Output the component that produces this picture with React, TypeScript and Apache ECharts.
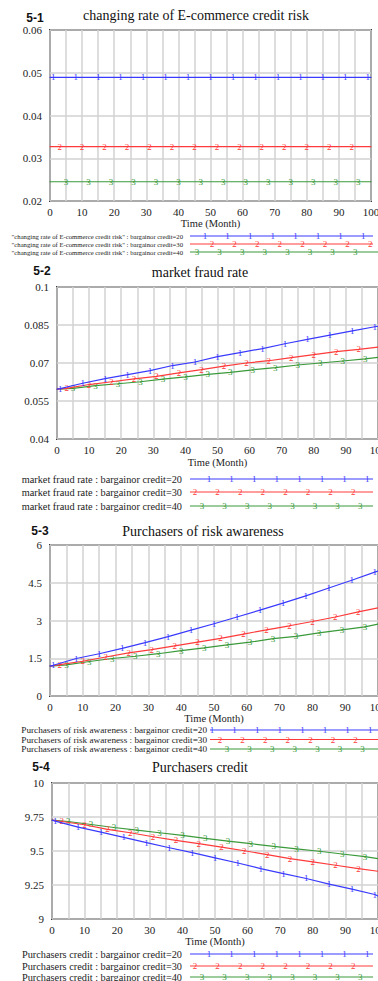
import React, { useEffect, useRef } from 'react';
import * as echarts from 'echarts';

// ---- time points (months) at which values were read (markers between the ends) ----
const blueMonths = [0, 1, 8, 15, 22, 29, 36, 43, 50, 57, 64, 71, 78, 85, 92, 99, 100];
const redMonths = [0, 3, 10, 17, 24, 31, 38, 45, 52, 59, 66, 73, 80, 87, 94, 100];
const greenMonths = [0, 5, 12, 19, 26, 33, 40, 47, 54, 61, 68, 75, 82, 89, 96, 100];

// ---- 5-1 changing rate of E-commerce credit risk ----
const riskRate20 = [0.0489, 0.0489, 0.0489, 0.0489, 0.0489, 0.0489, 0.0489, 0.0489, 0.0489, 0.0489, 0.0489, 0.0489, 0.0489, 0.0489, 0.0489, 0.0489, 0.0489];
const riskRate30 = [0.0327, 0.0327, 0.0327, 0.0327, 0.0327, 0.0327, 0.0327, 0.0327, 0.0327, 0.0327, 0.0327, 0.0327, 0.0327, 0.0327, 0.0327, 0.0327];
const riskRate40 = [0.0245, 0.0245, 0.0245, 0.0245, 0.0245, 0.0245, 0.0245, 0.0245, 0.0245, 0.0245, 0.0245, 0.0245, 0.0245, 0.0245, 0.0245, 0.0245];

// ---- 5-2 market fraud rate ----
const fraud20 = [0.0597, 0.0599, 0.062, 0.0638, 0.0654, 0.067, 0.069, 0.0704, 0.0725, 0.0741, 0.0757, 0.0776, 0.0793, 0.081, 0.0827, 0.0843, 0.0845];
const fraud30 = [0.0597, 0.06, 0.0615, 0.0626, 0.0637, 0.0647, 0.0661, 0.0674, 0.0688, 0.07, 0.0709, 0.0721, 0.0733, 0.0745, 0.0754, 0.0763];
const fraud40 = [0.0597, 0.06, 0.0611, 0.0618, 0.0626, 0.0636, 0.0645, 0.0655, 0.0663, 0.0673, 0.0682, 0.0692, 0.07, 0.0708, 0.0716, 0.0722];

// ---- 5-3 Purchasers of risk awareness ----
const aware20 = [1.19, 1.22, 1.49, 1.68, 1.89, 2.12, 2.36, 2.62, 2.87, 3.14, 3.41, 3.69, 3.98, 4.29, 4.6, 4.92, 4.96];
const aware30 = [1.19, 1.25, 1.38, 1.55, 1.71, 1.84, 1.99, 2.14, 2.29, 2.46, 2.63, 2.79, 2.96, 3.14, 3.34, 3.5];
const aware40 = [1.19, 1.24, 1.37, 1.49, 1.58, 1.68, 1.8, 1.91, 2.03, 2.14, 2.28, 2.37, 2.51, 2.63, 2.75, 2.86];

// ---- 5-4 Purchasers credit ----
const credit20 = [9.727, 9.72, 9.676, 9.639, 9.6, 9.561, 9.524, 9.488, 9.449, 9.412, 9.371, 9.334, 9.298, 9.256, 9.22, 9.18, 9.17];
const credit30 = [9.727, 9.717, 9.693, 9.659, 9.634, 9.605, 9.578, 9.554, 9.529, 9.502, 9.473, 9.444, 9.42, 9.395, 9.371, 9.351];
const credit40 = [9.727, 9.717, 9.695, 9.673, 9.654, 9.634, 9.615, 9.593, 9.573, 9.554, 9.534, 9.515, 9.498, 9.478, 9.459, 9.444];

// ---- axes ----
const yMins = [0.02, 0.04, 0, 9];
const yMaxs = [0.06, 0.1, 6, 10];
const ySteps = [0.01, 0.015, 1.5, 0.25];
const xMin = 0;
const xMax = 100;
const xGridStep = 5;
const xLabelStep = 10;
const xAxisName = 'Time (Month)';

// ---- texts ----
const panelTags = ['5-1', '5-2', '5-3', '5-4'];
const panelTitles = ['changing rate of E-commerce credit risk', 'market fraud rate', 'Purchasers of risk awareness', 'Purchasers credit'];
const legendVarNames = ['"changing rate of E-commerce credit risk"', 'market fraud rate', 'Purchasers of risk awareness', 'Purchasers credit'];
const bargainorCredits = [20, 30, 40];
const markerDigits = ['1', '2', '3'];

const seriesColors = ['#3a3aff', '#ff3a3a', '#3a9a3a'];
const SERIF = 'Liberation Serif';

const panelData = [
  [riskRate20, riskRate30, riskRate40],
  [fraud20, fraud30, fraud40],
  [aware20, aware30, aware40],
  [credit20, credit30, credit40],
];
const seriesMonths = [blueMonths, redMonths, greenMonths];

// layout (pixels)
const layouts = [
  { left: 50, top: 30, right: 7, height: 171, tagX: 35, tagY: 18, titleX: 196, titleY: 15, nameGap: 17,
    legY: [236, 244, 252], legTextRight: 183, legFont: 6.7, legX1: 190, legX2: [373, 373, 378], digitStart: [205, 212, 197] },
  { left: 57, top: 287, right: 0, height: 152, tagX: 42, tagY: 271, titleX: 200, titleY: 272, nameGap: 18,
    legY: [479, 492, 506], legTextRight: 182, legFont: 10.3, legX1: 190, legX2: [373, 373, 373], digitStart: [209, 195, 202] },
  { left: 50, top: 545, right: 0, height: 151, tagX: 40, tagY: 531, titleX: 203, titleY: 531, nameGap: 17,
    legY: [730, 739.5, 749], legTextRight: 207, legFont: 9.2, legX1: 210, legX2: [378, 378, 378], digitStart: [212, 220, 227] },
  { left: 52, top: 783, right: 0, height: 136, tagX: 41, tagY: 767, titleX: 200, titleY: 767, nameGap: 15,
    legY: [954, 966, 977], legTextRight: 182, legFont: 10.3, legX1: 190, legX2: [373, 373, 373], digitStart: [209, 195, 202] },
];

function buildOption() {
  const grids = layouts.map((l) => ({
    left: l.left, top: l.top, right: l.right, height: l.height,
    containLabel: false, outerBoundsMode: 'none',
    show: true, borderColor: '#3a3a3a', borderWidth: 2, backgroundColor: '#ffffff',
  }));
  const xAxes = layouts.map((l, i) => ({
    type: 'value', gridIndex: i, min: xMin, max: xMax, interval: xGridStep,
    name: xAxisName, nameLocation: 'middle', nameGap: l.nameGap,
    nameTextStyle: { fontFamily: SERIF, fontSize: 10.5, color: '#222' },
    axisLine: { show: false }, axisTick: { show: false },
    axisLabel: {
      margin: 5, fontFamily: SERIF, fontSize: 11, color: '#222', hideOverlap: false,
      formatter: (v: number) => (v % xLabelStep === 0 ? String(v) : ''),
    },
    splitLine: { show: true, lineStyle: { color: '#d2d2d2', width: 1.5 } },
  }));
  const yAxes = layouts.map((l, i) => ({
    type: 'value', gridIndex: i, min: yMins[i], max: yMaxs[i], interval: ySteps[i],
    axisLine: { show: false }, axisTick: { show: false },
    axisLabel: { margin: 8, fontFamily: SERIF, fontSize: 11, color: '#222' },
    splitLine: { show: true, lineStyle: { color: '#d2d2d2', width: 1.5 } },
  }));

  const series: any[] = [];
  panelData.forEach((vals3, pi) => {
    vals3.forEach((vals, si) => {
      const months = seriesMonths[si];
      const n = vals.length;
      series.push({
        type: 'line', xAxisIndex: pi, yAxisIndex: pi,
        data: vals.map((v, k) => [months[k], v]),
        symbol: 'circle', symbolSize: 1, showSymbol: true, showAllSymbol: true,
        lineStyle: { color: seriesColors[si], width: 1.2 },
        itemStyle: { color: seriesColors[si] },
        label: {
          show: true, position: 'inside', color: seriesColors[si], fontSize: 9, fontFamily: SERIF,
          formatter: (p: any) => (p.dataIndex === 0 || p.dataIndex === n - 1 ? '' : markerDigits[si]),
        },
        emphasis: { disabled: true },
        z: 5 - si,
      });
    });
  });

  const graphics: any[] = [];
  layouts.forEach((l, pi) => {
    graphics.push({
      type: 'text', x: l.tagX, y: l.tagY,
      style: { text: panelTags[pi], align: 'center', verticalAlign: 'middle', fontFamily: 'Liberation Sans', fontWeight: 'bold', fontSize: 12, fill: '#111' },
    });
    graphics.push({
      type: 'text', x: l.titleX, y: l.titleY,
      style: { text: panelTitles[pi], align: 'center', verticalAlign: 'middle', fontFamily: SERIF, fontSize: 14, fill: '#111' },
    });
    bargainorCredits.forEach((c, si) => {
      const y = l.legY[si];
      graphics.push({
        type: 'text', x: l.legTextRight, y,
        style: { text: `${legendVarNames[pi]} : bargainor credit=${c}`, align: 'right', verticalAlign: 'middle', fontFamily: SERIF, fontSize: l.legFont, fill: '#222' },
      });
      graphics.push({
        type: 'line', shape: { x1: l.legX1, y1: y, x2: l.legX2[si], y2: y },
        style: { stroke: seriesColors[si], lineWidth: 1.2 },
      });
      for (let x = l.digitStart[si]; x <= 373; x += 22.6) {
        graphics.push({
          type: 'text', x, y,
          style: { text: markerDigits[si], align: 'center', verticalAlign: 'middle', fontFamily: SERIF, fontSize: 9, fill: seriesColors[si] },
        });
      }
    });
  });

  return {
    animation: false,
    backgroundColor: '#ffffff',
    grid: grids,
    xAxis: xAxes,
    yAxis: yAxes,
    series,
    graphic: graphics,
  };
}

export default function App() {
  const ref = useRef<HTMLDivElement>(null);
  useEffect(() => {
    if (!ref.current) return;
    const chart = echarts.init(ref.current, undefined, { renderer: 'svg' });
    chart.setOption(buildOption() as any);
    return () => chart.dispose();
  }, []);
  return (
    <div
      ref={ref}
      style={{ position: 'fixed', left: 0, top: 0, width: 378, height: 981, background: '#fff' }}
    />
  );
}
